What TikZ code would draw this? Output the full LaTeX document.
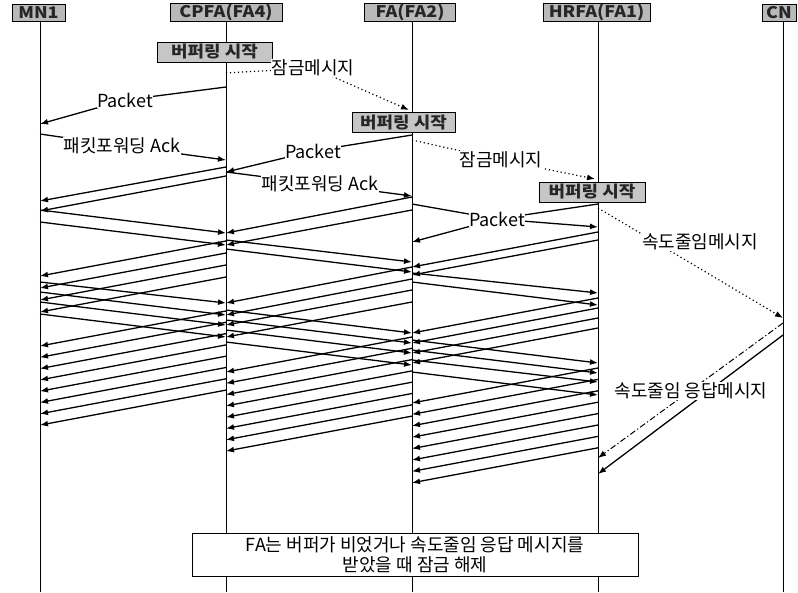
\documentclass[tikz,border=0pt]{standalone}
\usepackage{fontspec}
\newfontfamily\kr{Noto Sans CJK KR}
\newfontfamily\krw[FakeStretch=1.12]{Noto Sans CJK KR}
\usetikzlibrary{arrows.meta}
\begin{document}
\begin{tikzpicture}[x=1pt,y=-1pt,
  lbl/.style={font=\kr\fontsize{18}{19}\selectfont, fill=white, inner sep=0.5pt},
  hdr/.style={draw, line width=1pt, fill=gray!55, text=black!85, font=\krw\bfseries\fontsize{16}{17}\selectfont, inner sep=0.5pt, minimum height=17pt},
  buf/.style={draw, line width=1pt, fill=gray!45, text=black!85, font=\krw\bfseries\fontsize{16}{17}\selectfont, inner sep=0.5pt, minimum height=20pt},
  life/.style={line width=1pt},
  msg/.style={line width=1.3pt, -{Latex[length=8pt,width=6pt]}},
  dmsg/.style={line width=1.2pt, dash pattern=on 1.2pt off 2.8pt, -{Latex[length=8pt,width=6pt]}},
  ddmsg/.style={line width=1pt, dash pattern=on 6pt off 2.5pt on 1.2pt off 2.5pt, -{Latex[length=8pt,width=6pt]}},
  note/.style={draw, line width=1pt, fill=white, align=center, font=\kr\fontsize{18}{20}\selectfont, inner sep=1pt}
]
\fill[white] (0,0) rectangle (798,592);
\useasboundingbox (0,0) rectangle (798,592);

% lifeline x positions
\coordinate (xMN) at (40,0);
\coordinate (xCP) at (226,0);
\coordinate (xFA) at (412,0);
\coordinate (xHR) at (598,0);
\coordinate (xCN) at (783,0);

% headers
\node[hdr, minimum width=53pt] (hMN) at (38.5,12.5) {MN1};
\node[hdr, minimum width=112pt] (hCP) at (226,12.5) {CPFA(FA4)};
\node[hdr, minimum width=91pt] (hFA) at (410,12.5) {FA(FA2)};
\node[hdr, minimum width=107pt] (hHR) at (596.5,12.5) {HRFA(FA1)};
\node[hdr, minimum width=34pt] (hCN) at (779,12.5) {CN};

% lifelines
\draw[life] (xMN |- hMN.south) -- (xMN |- 0,592);
\draw[life] (xCP |- hCP.south) -- (xCP |- 0,592);
\draw[life] (xFA |- hFA.south) -- (xFA |- 0,592);
\draw[life] (xHR |- hHR.south) -- (xHR |- 0,592);
\draw[life] (xCN |- hCN.south) -- (xCN |- 0,592);

% buffering boxes
\node[buf, minimum width=115pt] (b1) at (214.5,52) {버퍼링 시작};
\node[buf, minimum width=103pt] (b2) at (403.5,122.5) {버퍼링 시작};
\node[buf, minimum width=106pt] (b3) at (592,192) {버퍼링 시작};

% label anchor coordinates
\coordinate (cP1) at (125,100);
\coordinate (cL1) at (313,68);
\coordinate (cA1) at (122,146);
\coordinate (cP2) at (313,151);
\coordinate (cL2) at (501,160);
\coordinate (cA2) at (320,184);
\coordinate (cP3) at (497,219);
\coordinate (cS) at (700,242);
\coordinate (cR) at (691,391);

% labelled messages
\draw[msg] (xCP |- 0,87) -- (cP1) -- (xMN |- 0,124);
\draw[dmsg] (xCP |- 0,73) -- (cL1) -- (409,110);
\draw[msg] (xMN |- 0,134) -- (cA1) -- (xCP |- 0,160);
\draw[msg] (xFA |- 0,135) -- (cP2) -- (xCP |- 0,172);
\draw[dmsg] (xFA |- 0,140) -- (cL2) -- (595,179);
\draw[msg] (xCP |- 0,172) -- (cA2) -- (xFA |- 0,196);
\draw[msg] (xHR |- 0,204) -- (cP3) -- (xFA |- 0,242);
\draw[msg] (xFA |- 0,204) -- (cP3) -- (xHR |- 0,227);
\draw[dmsg] (xHR |- 0,208) -- (xCN |- 0,318);
\draw[ddmsg] (xCN |- 0,323) -- (xHR |- 0,458);
\draw[msg] (xCN |- 0,335) -- (xHR |- 0,474);

% segment MN1 - CPFA
\foreach \a/\b in {167/201,176/211,241/276,253/288,265/300,277/312}
  \draw[msg] (xCP |- 0,\a) -- (xMN |- 0,\b);
\foreach \a/\b in {210/233,222/245,282/303,292/315,302/325,314/337}
  \draw[msg] (xMN |- 0,\a) -- (xCP |- 0,\b);
\foreach \i in {0,...,7}
  \draw[msg] (xCP |- 0,311+11.3*\i) -- (xMN |- 0,346+11.3*\i);

% segment CPFA - FA
\foreach \a/\b in {197/233,210/245,267/303,279/315,290/325,302/337}
  \draw[msg] (xFA |- 0,\a) -- (xCP |- 0,\b);
\foreach \a/\b in {240/262,249/272,310/333,320/343,330/353,342/365}
  \draw[msg] (xCP |- 0,\a) -- (xFA |- 0,\b);
\foreach \i in {0,...,7}
  \draw[msg] (xFA |- 0,337+11.3*\i) -- (xCP |- 0,372+11.3*\i);

% segment FA - HRFA
\foreach \a/\b in {232/267,240/275,298/333,308/343,318/353,328/363}
  \draw[msg] (xHR |- 0,\a) -- (xFA |- 0,\b);
\foreach \a/\b in {273/293,282/305,340/363,350/373,360/382,372/395}
  \draw[msg] (xFA |- 0,\a) -- (xHR |- 0,\b);
\foreach \i in {0,...,7}
  \draw[msg] (xHR |- 0,368+11.4*\i) -- (xFA |- 0,403+11.4*\i);

% labels on top
\node[lbl] (lP1) at (cP1) {Packet};
\node[lbl] (lL1) at (cL1) {잠금메시지};
\node[lbl] (lA1) at (cA1) {패킷포워딩 Ack};
\node[lbl] (lP2) at (cP2) {Packet};
\node[lbl] (lL2) at (cL2) {잠금메시지};
\node[lbl] (lA2) at (cA2) {패킷포워딩 Ack};
\node[lbl] (lP3) at (cP3) {Packet};
\node[lbl] (lS) at (cS) {속도줄임메시지};
\node[lbl] (lR) at (cR) {속도줄임 응답메시지};

% note box
\node[note, minimum width=446pt, minimum height=43pt] (nt) at (415,554.5)
  {FA는 버퍼가 비었거나 속도줄임 응답 메시지를\\받았을 때 잠금 해제};
\end{tikzpicture}
\end{document}
